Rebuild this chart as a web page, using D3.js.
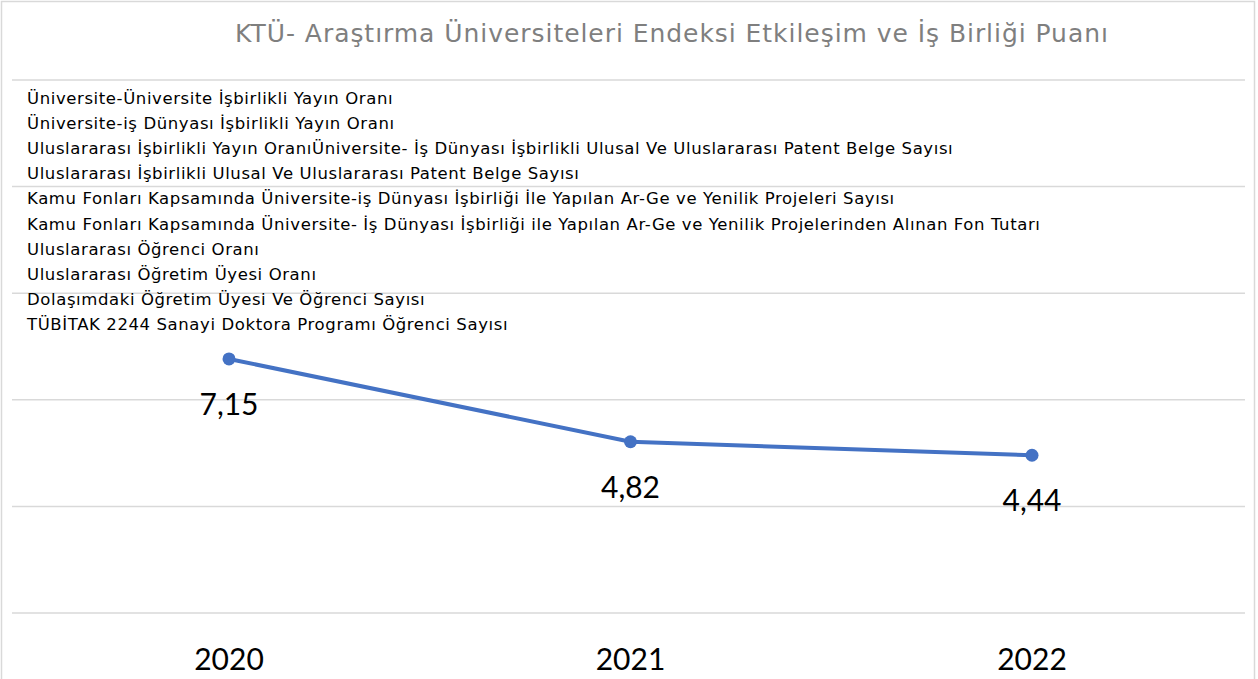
<!DOCTYPE html>
<html lang="tr">
<head>
<meta charset="UTF-8">
<title>KTÜ Etkileşim ve İş Birliği Puanı</title>
<script src="https://d3js.org/d3.v7.min.js"></script>
<style>
    body { margin: 0; padding: 0; background: #fff; }
    svg { display: block; font-family: "Lato", "DejaVu Sans", sans-serif; }
    .wide { font-family: "DejaVu Sans", sans-serif; }
</style>
</head>
<body>
<svg width="1258" height="679"></svg>
<script>
// Veriler
const years = ["2020", "2021", "2022"];
const scores = [7.15, 4.82, 4.44];
const yTicks = [0, 3, 6, 9, 12, 15];
const indicators = [
    "Üniversite-Üniversite İşbirlikli Yayın Oranı",
    "Üniversite-iş Dünyası İşbirlikli Yayın Oranı",
    "Uluslararası İşbirlikli Yayın OranıÜniversite- İş Dünyası İşbirlikli Ulusal Ve Uluslararası Patent Belge Sayısı",
    "Uluslararası İşbirlikli Ulusal Ve Uluslararası Patent Belge Sayısı",
    "Kamu Fonları Kapsamında Üniversite-iş Dünyası İşbirliği İle Yapılan Ar-Ge ve Yenilik Projeleri Sayısı",
    "Kamu Fonları Kapsamında Üniversite- İş Dünyası İşbirliği ile Yapılan Ar-Ge ve Yenilik Projelerinden Alınan Fon Tutarı",
    "Uluslararası Öğrenci Oranı",
    "Uluslararası Öğretim Üyesi Oranı",
    "Dolaşımdaki Öğretim Üyesi Ve Öğrenci Sayısı",
    "TÜBİTAK 2244 Sanayi Doktora Programı Öğrenci Sayısı"
];
const title = "KTÜ- Araştırma Üniversiteleri Endeksi Etkileşim ve İş Birliği Puanı";

const width = 1258, height = 679;
const svg = d3.select("svg");

// Dış çerçeve
svg.append("rect")
    .attr("x", 1.5).attr("y", 1.5)
    .attr("width", 1253).attr("height", height + 10)
    .attr("fill", "#fff")
    .attr("stroke", "#d9d9d9")
    .attr("stroke-width", 1.5);

// Ölçekler
const x = d3.scalePoint().domain(years).range([229, 1032]);
const y = d3.scaleLinear().domain([0, 15]).range([613, 80]);

// Izgara çizgileri
svg.append("g")
    .selectAll("line")
    .data(yTicks)
    .join("line")
    .attr("x1", 12).attr("x2", 1245)
    .attr("y1", d => y(d)).attr("y2", d => y(d))
    .attr("stroke", "#d9d9d9")
    .attr("stroke-width", 1.5);

// Başlık
svg.append("text")
    .attr("class", "wide")
    .attr("x", 672).attr("y", 42)
    .attr("text-anchor", "middle")
    .attr("font-size", 25)
    .attr("fill", "#7f7f7f")
    .attr("letter-spacing", 0.95)
    .text(title);

// Gösterge metinleri
svg.append("g")
    .attr("class", "wide")
    .selectAll("text")
    .data(indicators)
    .join("text")
    .attr("x", 27)
    .attr("y", (d, i) => 104 + i * 25.1)
    .attr("font-size", 16.5)
    .attr("letter-spacing", 0.6)
    .attr("fill", "#000")
    .text(d => d);

// Çizgi
svg.append("path")
    .datum(scores)
    .attr("fill", "none")
    .attr("stroke", "#4472c4")
    .attr("stroke-width", 4)
    .attr("stroke-linejoin", "round")
    .attr("d", d3.line().x((d, i) => x(years[i])).y(d => y(d)));

svg.append("g")
    .selectAll("circle")
    .data(scores)
    .join("circle")
    .attr("cx", (d, i) => x(years[i]))
    .attr("cy", d => y(d))
    .attr("r", 6.5)
    .attr("fill", "#4472c4");

// Değer etiketleri
svg.append("g")
    .selectAll("text")
    .data(scores)
    .join("text")
    .attr("x", (d, i) => x(years[i]))
    .attr("y", d => y(d) + 56)
    .attr("text-anchor", "middle")
    .attr("font-size", 30)
    .attr("fill", "#000")
    .text(d => d.toFixed(2).replace(".", ","));

// Yıl etiketleri
svg.append("g")
    .selectAll("text")
    .data(years)
    .join("text")
    .attr("x", d => x(d))
    .attr("y", 670)
    .attr("text-anchor", "middle")
    .attr("font-size", 30)
    .attr("fill", "#000")
    .text(d => d);
</script>
</body>
</html>
